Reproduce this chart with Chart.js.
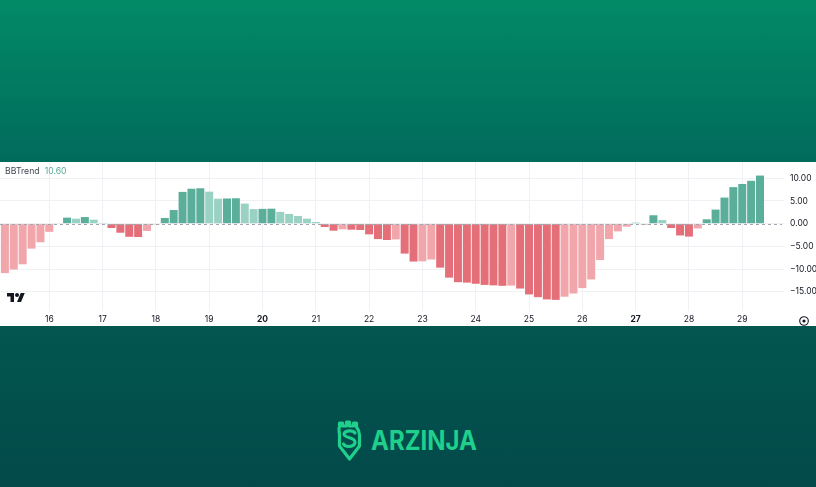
<!DOCTYPE html>
<html><head><meta charset="utf-8">
<script src="https://cdn.jsdelivr.net/npm/chart.js@4.4.1/dist/chart.umd.min.js"></script>
<style>
html,body{margin:0;padding:0;}
body{width:816px;height:487px;overflow:hidden;position:relative;background:linear-gradient(to bottom,#028a67 0px,#016b5b 162px,#02574f 326px,#03494a 487px);font-family:Inter,sans-serif;}
#strip{position:absolute;left:0;top:162px;width:816px;height:164px;background:#fff;overflow:hidden;}
#c{position:absolute;left:0;top:0;}
#legend{position:absolute;left:5px;top:4px;font-size:8.7px;line-height:11px;color:#434651;white-space:nowrap;}
#legend span{color:#56a896;margin-left:5px;}
#tv{position:absolute;left:7px;top:129px;}
#gear{position:absolute;left:798px;top:153px;}
#logo{position:absolute;left:330px;top:415px;}
</style></head><body>
<div id="strip">
<canvas id="c" width="816" height="164"></canvas>
<div id="legend">BBTrend<span>10.60</span></div>
<svg id="tv" width="18" height="14" viewBox="0 0 36 28"><path fill="#131722" d="M14 22H7V11H0V4h14v18zM28 22h-8l7.5-18h8L28 22z"/><circle fill="#131722" cx="20" cy="8" r="4"/></svg>
<svg id="gear" width="12" height="12" viewBox="0 0 12 12"><circle cx="6" cy="6" r="4.3" fill="none" stroke="#131722" stroke-width="1.1"/><circle cx="6" cy="6" r="1.6" fill="#131722"/></svg>
</div>
<svg id="logo" width="160" height="50" viewBox="0 0 160 50">
  <g fill="none" stroke="#1fcf8c" stroke-width="3.2" stroke-linejoin="round" stroke-linecap="round">
    <path d="M9.5 12 V8 h3 v3 h4 V7 h3 v4 h4 V8 h3 v4 C28 14 29.5 16 29.5 20 V31 L19.5 44 L9.5 31 V20 C9.5 16 8 14 9.5 12 Z"/>
    <path d="M25 18 C23 15 15 15 14 19 C13 23 25 22 25 27 C25 32 16 33 13.5 29"/>
  </g>
  <text x="41" y="35" font-family="Inter, sans-serif" font-weight="700" font-size="27" fill="#1fcf8c" textLength="106" lengthAdjust="spacingAndGlyphs">ARZINJA</text>
</svg>
<script>
const categories = [
 "15 04:00","15 08:00","15 12:00","15 16:00","15 20:00",
 "16 00:00","16 04:00","16 08:00","16 12:00","16 16:00","16 20:00",
 "17 00:00","17 04:00","17 08:00","17 12:00","17 16:00","17 20:00",
 "18 00:00","18 04:00","18 08:00","18 12:00","18 16:00","18 20:00",
 "19 00:00","19 04:00","19 08:00","19 12:00","19 16:00","19 20:00",
 "20 00:00","20 04:00","20 08:00","20 12:00","20 16:00","20 20:00",
 "21 00:00","21 04:00","21 08:00","21 12:00","21 16:00","21 20:00",
 "22 00:00","22 04:00","22 08:00","22 12:00","22 16:00","22 20:00",
 "23 00:00","23 04:00","23 08:00","23 12:00","23 16:00","23 20:00",
 "24 00:00","24 04:00","24 08:00","24 12:00","24 16:00","24 20:00",
 "25 00:00","25 04:00","25 08:00","25 12:00","25 16:00","25 20:00",
 "26 00:00","26 04:00","26 08:00","26 12:00","26 16:00","26 20:00",
 "27 00:00","27 04:00","27 08:00","27 12:00","27 16:00","27 20:00",
 "28 00:00","28 04:00","28 08:00","28 12:00","28 16:00","28 20:00",
 "29 00:00","29 04:00","29 08:00"
];
const bbtrend = [
 -10.9,-10.1,-8.95,-5.5,-4.1,
 -1.8,0.1,1.33,1.1,1.45,0.88,
 0.05,-0.96,-2.0,-2.9,-2.95,-1.6,
 -0.2,1.26,3.0,7.0,7.7,7.8,
 7.05,5.5,5.55,5.6,4.42,3.2,
 3.26,3.3,2.6,2.15,1.7,1.1,
 0.37,-0.74,-1.55,-1.25,-1.33,-1.4,
 -2.36,-3.4,-3.6,-3.47,-6.6,-8.35,
 -8.3,-7.9,-9.7,-11.9,-12.9,-13.0,
 -13.25,-13.5,-13.6,-13.7,-13.65,-14.3,
 -15.6,-16.2,-16.7,-16.8,-16.1,-15.4,
 -14.2,-12.3,-8.0,-3.4,-1.7,-0.66,
 0.2,-0.2,1.85,0.8,-0.96,-2.6,
 -2.85,-1.05,0.96,3.1,5.75,8.05,
 8.75,9.45,10.6
];
const timeTickLabels = ["16","17","18","19","20","21","22","23","24","25","26","27","28","29"];
const boldTimeTicks = ["20","27"];
const priceTicks = [10,5,0,-5,-10,-15];

const COLORS = {up:'#5bae9a', upLight:'#99d1c3', down:'#e56f79', downLight:'#f1a6ac'};
const barColors = bbtrend.map((v,i)=>{
  const prev = i>0 ? bbtrend[i-1] : null;
  if (v >= 0) return (prev===null || v > prev) ? COLORS.up : COLORS.upLight;
  return (prev===null || v > prev) ? COLORS.downLight : COLORS.down;
});

const dayStartIdx = categories.map((c,i)=>c.endsWith("00:00")?i:-1).filter(i=>i>=0);
const tickMap = {};
dayStartIdx.forEach((idx,k)=>{ tickMap[idx] = timeTickLabels[k]; });

const fmt = v => (v<0?'\u2212':'') + Math.abs(v).toFixed(2);

const zeroLine = {
  id:'zeroLine',
  afterDatasetsDraw(chart){
    const {ctx, chartArea:a, scales:{y}} = chart;
    const py = Math.round(y.getPixelForValue(0)) + 0.5;
    ctx.save();
    ctx.strokeStyle = '#a3a6af';
    ctx.lineWidth = 1;
    ctx.setLineDash([3,3]);
    ctx.beginPath();
    ctx.moveTo(a.left, py);
    ctx.lineTo(a.right-2, py);
    ctx.stroke();
    ctx.restore();
  }
};

new Chart(document.getElementById('c'), {
  type:'bar',
  data:{
    datasets:[{
      label:'BBTrend',
      data: bbtrend.map((v,i)=>({x:i, y:v})),
      backgroundColor: barColors,
      borderWidth:0,
      barPercentage:0.9,
      categoryPercentage:1.0
    }]
  },
  options:{
    responsive:false,
    animation:false,
    layout:{padding:0},
    plugins:{legend:{display:false}, tooltip:{enabled:false}},
    scales:{
      x:{
        type:'linear',
        offset:false,
        min:-0.55,
        max:87.7,
        grid:{color:'#eff1f5', drawTicks:false, offset:false},
        border:{display:false},
        afterBuildTicks(s){ s.ticks = dayStartIdx.map(v=>({value:v})); },
        afterFit(s){ s.height = 15; s.paddingLeft = 0; s.paddingRight = 0; },
        ticks:{
          padding:3,
          color:'#131722',
          maxRotation:0,
          autoSkip:false,
          callback:(v)=>tickMap[v] || '',
          font:(ctx)=>({family:'Inter', size:8.5, weight:(ctx.tick && boldTimeTicks.includes(ctx.tick.label)) ? '700':'400'})
        }
      },
      y:{
        position:'right',
        min:-19.25,
        max:13.59,
        grid:{color:'#eff1f5', drawTicks:false},
        border:{display:false},
        afterBuildTicks(s){ s.ticks = priceTicks.map(v=>({value:v})); },
        afterFit(s){ s.width = 32; s.paddingTop = 0; s.paddingBottom = 0; },
        ticks:{
          padding:6,
          color:'#131722',
          callback:(v)=>fmt(v),
          font:{family:'Inter', size:8.5}
        }
      }
    }
  },
  plugins:[zeroLine]
});
</script>
</body></html>
